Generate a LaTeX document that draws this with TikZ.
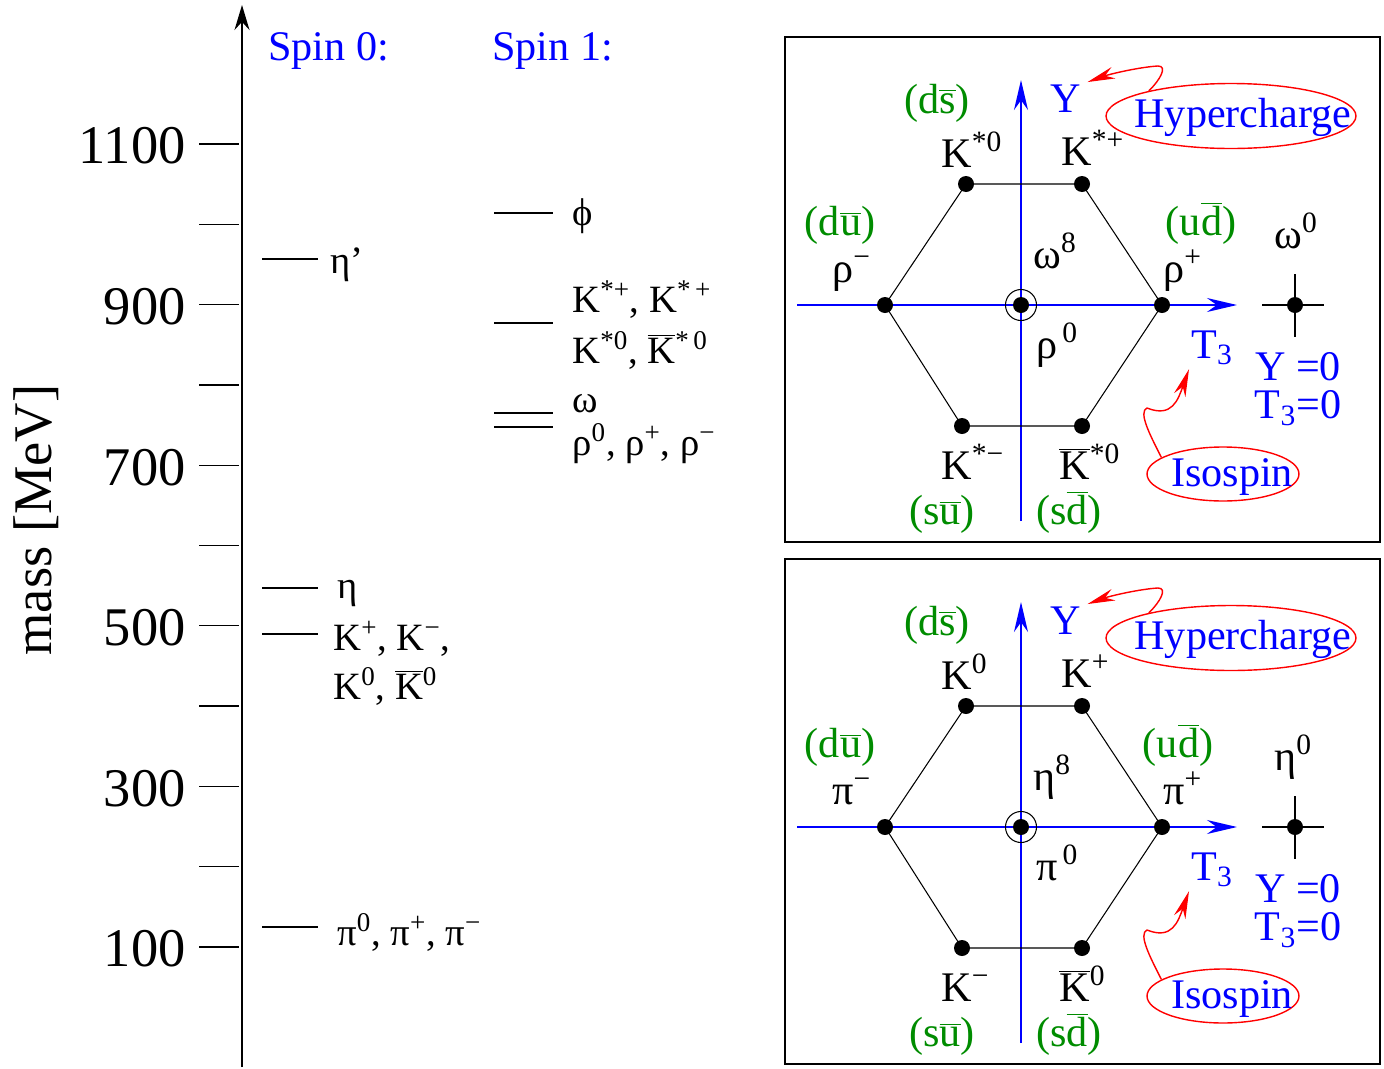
\documentclass[tikz,border=0pt]{standalone}
\usepackage{fontspec}
\setmainfont{Liberation Serif}
\usetikzlibrary{arrows.meta, positioning, calc, shapes.geometric}
\definecolor{quarkgreen}{RGB}{0,140,0}
\newcommand{\ovl}[1]{$\overline{\mbox{#1}}$}

\begin{document}
\begin{tikzpicture}[x=0.02cm, y=-0.02cm,
  every node/.style={inner sep=0pt},
  lbl/.style={font=\fontsize{24}{28}\selectfont},
  lvl/.style={font=\fontsize{22}{26}\selectfont, anchor=base west},
  big/.style={font=\fontsize{31}{36}\selectfont},
  quark/.style={lbl, text=quarkgreen, anchor=base},
  qnum/.style={lbl, text=blue},
  meson/.style={lbl, anchor=base west},
  dot/.style={circle, fill=black, minimum size=0.32cm},
  hexline/.style={line width=0.6pt},
  massline/.style={line width=0.7pt},
  qaxis/.style={blue, line width=0.9pt, -{Stealth[length=0.6cm, width=0.28cm]}},
  hint/.style={red, line width=0.8pt, -{Stealth[length=0.55cm, width=0.24cm]}},
  oval/.style={draw=red, ellipse, line width=0.8pt}
]
\useasboundingbox (0,0) rectangle (1384,1069);

% mass scale
\draw[line width=1pt, -{Stealth[length=0.5cm, width=0.3cm]}] (242,1067) -- (242,5);
\foreach \m in {100,200,...,1100}
  \draw[massline] (199,{947-(\m-100)*0.803}) -- (239,{947-(\m-100)*0.803});
\foreach \m in {100,300,...,1100}
  \node[big, anchor=east] (tick\m) at (186,{949-(\m-100)*0.803}) {\m};
\node[big, rotate=90] (mass) at (36,520) {mass [MeV]};

\node[lbl, text=blue, anchor=west] (spin0) at (268,51) {Spin 0:};
\node[lbl, text=blue, anchor=west] (spin1) at (492,51) {Spin 1:};

% spin 0 levels
\draw[massline] (262,259) -- (318,259);
\node[lvl] (etap) at (330,273) {η’};
\draw[massline] (262,588) -- (318,588);
\node[lvl] (eta) at (337,598) {η};
\draw[massline] (262,634) -- (318,634);
\node[lvl] (kaon) at (333,650) {K\textsuperscript{+}, K\textsuperscript{−},};
\node[lvl] (kaonz) at (333,699) {K\textsuperscript{0}, \ovl{K}\textsuperscript{0}};
\draw[massline] (262,927) -- (318,927);
\node[lvl] (pion) at (337,945) {π\textsuperscript{0}, π\textsuperscript{+}, π\textsuperscript{−}};

% spin 1 levels
\draw[massline] (494,213) -- (553,213);
\node[lvl] (phi) at (572,225) {ϕ};
\draw[massline] (494,323) -- (553,323);
\node[lvl] (kstar) at (572,312) {K\textsuperscript{*+}, K\textsuperscript{*\,+}};
\node[lvl] (kstarz) at (572,363) {K\textsuperscript{*0}, \ovl{K}\textsuperscript{*\,0}};
\draw[massline] (494,413) -- (553,413);
\draw[massline] (494,427) -- (553,427);
\node[lvl] (omega) at (572,412) {ω};
\node[lvl] (rho) at (572,455) {ρ\textsuperscript{0}, ρ\textsuperscript{+}, ρ\textsuperscript{−}};

% nonet panels: vector (v) and pseudoscalar (p)
\foreach \p/\dy/\ux/\ka/\kb/\pa/\pb/\ca/\cb/\kc/\kd/\sn in {
    v/0/1201/{K\textsuperscript{*0}}/{K\textsuperscript{*+}}/{ρ\textsuperscript{−}}/{ρ\textsuperscript{+}}/{ω\textsuperscript{8}}/{ρ\textsuperscript{\,0}}/{K\textsuperscript{*−}}/{\ovl{K}\textsuperscript{*0}}/{ω\textsuperscript{0}},
    p/522/1178/{K\textsuperscript{0}}/{K\textsuperscript{+}}/{π\textsuperscript{−}}/{π\textsuperscript{+}}/{η\textsuperscript{8}}/{π\textsuperscript{\,0}}/{K\textsuperscript{−}}/{\ovl{K}\textsuperscript{0}}/{η\textsuperscript{0}}}
{
  \begin{scope}[shift={(0,\dy)}]
    \draw[line width=1pt] (785,37) rectangle (1380,542);
    % axes
    \coordinate (\p-xa) at (797,305);
    \coordinate (\p-xb) at (1237,305);
    \coordinate (\p-ya) at (1021,521);
    \coordinate (\p-yb) at (1021,80);
    \draw[qaxis] (\p-xa) -- (\p-xb);
    \draw[qaxis] (\p-ya) -- (\p-yb);
    % octet
    \node[dot] (\p-l)  at (885,305)  {};
    \node[dot] (\p-tl) at (966,184)  {};
    \node[dot] (\p-tr) at (1082,184) {};
    \node[dot] (\p-r)  at (1162,305) {};
    \node[dot] (\p-br) at (1082,426) {};
    \node[dot] (\p-bl) at (962,426)  {};
    \node[dot] (\p-c)  at (1021,305) {};
    \draw[hexline] (\p-l.center) -- (\p-tl.center) -- (\p-tr.center) -- (\p-r.center)
      -- (\p-br.center) -- (\p-bl.center) -- cycle;
    \node[circle, draw, minimum size=0.62cm, line width=0.6pt] (\p-cring) at (\p-c) {};
    % singlet
    \draw[hexline] (1262,305) -- (1324,305) (1295,274) -- (1295,337);
    \node[dot] (\p-s) at (1295,305) {};
    % quark content
    \node[quark] (\p-ds) at (937,113) {(d\ovl{s})};
    \node[quark] (\p-du) at (840,235) {(d\ovl{u})};
    \node[quark] (\p-ud) at (\ux,235) {(u\ovl{d})};
    \node[quark] (\p-su) at (942,524) {(s\ovl{u})};
    \node[quark] (\p-sd) at (1069,524) {(s\ovl{d})};
    % mesons
    \node[meson] (\p-ktl) at (941,167)  {\ka};
    \node[meson] (\p-ktr) at (1061,165) {\kb};
    \node[meson] (\p-ml)  at (832,282)  {\pa};
    \node[meson] (\p-mr)  at (1163,282) {\pb};
    \node[meson] (\p-cu)  at (1033,268) {\ca};
    \node[meson] (\p-cd)  at (1036,358) {\cb};
    \node[meson] (\p-sn)  at (1274,248) {\sn};
    \node[meson] (\p-kbl) at (941,479)  {\kc};
    \node[meson] (\p-kbr) at (1059,479) {\kd};
    % quantum numbers
    \node[qnum, anchor=base] (\p-y) at (1066,112) {Y};
    \node[qnum, anchor=base west] (\p-t) at (1191,358) {T\textsubscript{3}};
    \node[qnum, font=\fontsize{24}{21.5}\selectfont, align=center] (\p-zero) at (1298,389)
      {Y =0\\T\textsubscript{3}=0};
    \node[oval, minimum width=5cm, minimum height=1.3cm] (\p-hcring) at (1231,116) {};
    \node[qnum, anchor=base] (\p-hc) at (1243,127) {Hypercharge};
    \node[oval, minimum width=3.04cm, minimum height=1.08cm] (\p-isring) at (1223,474) {};
    \node[qnum, anchor=base] (\p-is) at (1232,486) {Isospin};
    \draw[hint] (\p-hcring.163) .. controls (1160,80) and (1168,66) .. (1158,66)
      .. controls (1140,67) and (1110,74) .. ([xshift=0.12cm, yshift=0.04cm]\p-y.north east);
    \draw[hint] (\p-isring.165) .. controls (1150,435) and (1138,412) .. (1147,408)
      .. controls (1172,418) and (1178,400) .. ([xshift=-0.04cm, yshift=-0.08cm]\p-t.south west);
  \end{scope}
}
\end{tikzpicture}
\end{document}
